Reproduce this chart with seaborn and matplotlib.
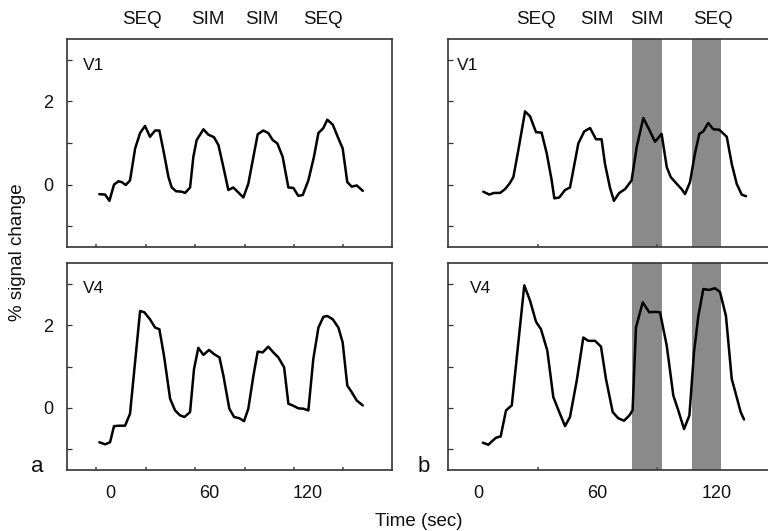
import matplotlib
matplotlib.use('Agg')
import matplotlib.pyplot as plt
import matplotlib.transforms as mtransforms
from matplotlib.ticker import FixedLocator
import pandas as pd
import seaborn as sns

# ---- data (time in sec, % signal change) ----
# a: V1
t_a_v1 = [-6.5, -3.0, -0.4, 2.4, 5.1, 7.1, 9.5, 12.1, 15.2, 18.2, 21.2, 24.2, 27.3, 29.9,
          32.3, 35.4, 37.4, 40.0, 43.4, 45.5, 48.5, 50.5, 52.5, 56.6, 59.6, 63.0, 65.7,
          68.7, 71.7, 74.7, 77.8, 80.8, 83.8, 86.9, 89.5, 92.9, 95.9, 98.6, 101.4, 104.6,
          108.1, 111.1, 114.1, 116.8, 120.2, 123.6, 126.3, 129.3, 131.7, 135.0, 138.4,
          141.0, 143.8, 146.5, 149.5, 153.2]
a_v1 = [-0.23, -0.24, -0.39, 0.00, 0.08, 0.06, -0.01, 0.10, 0.87, 1.24, 1.41, 1.15, 1.30, 1.30,
        0.83, 0.18, -0.07, -0.16, -0.17, -0.20, -0.07, 0.67, 1.07, 1.33, 1.20, 1.14, 0.95,
        0.42, -0.13, -0.07, -0.19, -0.31, 0.02, 0.67, 1.21, 1.30, 1.24, 1.07, 0.99, 0.67,
        -0.07, -0.08, -0.27, -0.25, 0.10, 0.67, 1.24, 1.36, 1.56, 1.44, 1.11,
        0.87, 0.06, -0.05, -0.02, -0.15]

# a: V4
t_a_v4 = [-6.5, -3.0, 0.0, 2.4, 5.7, 9.1, 12.1, 18.2, 20.8, 24.2, 27.3, 29.9, 32.7, 36.4,
          39.4, 42.4, 45.1, 48.5, 50.9, 53.5, 56.6, 60.0, 63.0, 66.3, 68.7, 72.3, 75.2,
          78.4, 81.2, 83.8, 86.9, 89.5, 92.5, 95.9, 99.0, 102.0, 105.5, 108.1, 110.7,
          114.1, 117.2, 120.2, 123.2, 126.3, 129.3, 131.7, 135.0, 138.4, 141.0, 143.8,
          146.5, 149.5, 153.2]
a_v4 = [-0.83, -0.88, -0.83, -0.44, -0.43, -0.43, -0.14, 2.34, 2.31, 2.14, 1.94, 1.90, 1.26, 0.22,
        -0.06, -0.18, -0.22, -0.10, 0.94, 1.45, 1.28, 1.40, 1.30, 1.22, 0.78, -0.02, -0.22,
        -0.25, -0.32, -0.02, 0.78, 1.36, 1.34, 1.48, 1.34, 1.22, 0.98, 0.10, 0.06,
        -0.01, -0.02, -0.06, 1.18, 1.94, 2.20, 2.22, 2.14, 1.94, 1.58, 0.54,
        0.38, 0.18, 0.06]

# b: V1
t_b_v1 = [2.7, 5.7, 8.1, 11.1, 13.6, 15.8, 17.8, 20.3, 23.7, 26.2, 29.2, 32.0, 34.6, 37.1,
          38.4, 40.9, 43.8, 46.3, 50.5, 53.5, 56.4, 59.4, 62.2, 63.9, 66.4, 68.4, 71.1,
          74.0, 77.3, 79.9, 83.2, 86.2, 89.1, 92.4, 95.0, 97.0, 100.0, 102.5, 104.2,
          106.7, 109.2, 111.4, 113.4, 115.9, 118.4, 121.4, 125.2, 127.7, 130.2, 132.7, 134.9]
b_v1 = [-0.17, -0.24, -0.20, -0.20, -0.11, 0.02, 0.18, 0.83, 1.76, 1.64, 1.26, 1.25, 0.75, 0.10,
        -0.33, -0.31, -0.13, -0.07, 0.99, 1.28, 1.36, 1.09, 1.09, 0.50, -0.07, -0.39, -0.20,
        -0.11, 0.10, 0.91, 1.60, 1.32, 1.03, 1.22, 0.42, 0.18, 0.02, -0.11, -0.23,
        0.06, 0.75, 1.22, 1.28, 1.48, 1.33, 1.32, 1.15, 0.50, 0.02, -0.24, -0.28]

# b: V4
t_b_v4 = [2.4, 5.2, 7.4, 9.1, 11.4, 14.1, 17.0, 23.3, 26.2, 29.2, 31.7, 34.9, 37.9, 40.9,
          43.8, 46.3, 49.7, 53.0, 55.5, 58.9, 61.9, 64.4, 67.8, 70.6, 73.5, 76.2, 77.8,
          79.5, 82.9, 86.2, 89.1, 91.6, 95.0, 98.3, 100.8, 103.7, 106.4, 108.7, 110.9,
          113.4, 116.4, 119.3, 121.8, 124.8, 127.7, 130.2, 132.2, 133.9]
b_v4 = [-0.84, -0.89, -0.79, -0.72, -0.69, -0.06, 0.06, 2.96, 2.59, 2.08, 1.90, 1.38, 0.26, -0.10,
        -0.44, -0.22, 0.66, 1.70, 1.62, 1.62, 1.48, 0.70, -0.10, -0.25, -0.31, -0.18, -0.06,
        1.94, 2.55, 2.31, 2.32, 2.31, 1.50, 0.30, -0.06, -0.51, -0.18, 1.34, 2.22,
        2.87, 2.85, 2.89, 2.80, 2.22, 0.70, 0.26, -0.10, -0.28]

# shaded attention windows in panel b (sec)
bands_b = [(77.5, 92.5), (107.5, 122.5)]

# block labels and their centres (sec)
block_names = ['SEQ', 'SIM', 'SIM', 'SEQ']
block_pos_a = [19.2, 59.4, 92.1, 129.1]
block_pos_b = [29.0, 59.9, 84.9, 118.3]

xticks = [0, 60, 120]
yticks = [-1, 0, 1, 2, 3]
ytick_labels = ['', '0', '', '2', '']

sns.set_theme(style='white')
plt.rcParams['font.family'] = ['Liberation Sans', 'DejaVu Sans']

W, H = 768, 531
TXT = '#111111'
fig = plt.figure(figsize=(W / 100, H / 100), dpi=100)


def px_box(left, top, right, bottom):
    return [left / W, 1 - bottom / H, (right - left) / W, (bottom - top) / H]


ax_a1 = fig.add_axes(px_box(67, 39, 392, 247))
ax_a2 = fig.add_axes(px_box(67, 263, 392, 470))
# right column runs off the edge of the figure, as in the original
ax_b1 = fig.add_axes(px_box(448, 39, 781, 247))
ax_b2 = fig.add_axes(px_box(448, 263, 781, 470))

panels = [
    (ax_a1, t_a_v1, a_v1, 'V1', (-26.1, 170.9), [-8.5, 21.5, 51.5, 81.5, 111.5, 141.5], True, 0.049),
    (ax_a2, t_a_v4, a_v4, 'V4', (-26.1, 170.9), [-8.5, 21.5, 51.5, 81.5, 111.5, 141.5], True, 0.049),
    (ax_b1, t_b_v1, b_v1, 'V1', (-15.1, 152.5), [0, 30, 60, 90, 120], False, 0.027),
    (ax_b2, t_b_v4, b_v4, 'V4', (-15.1, 152.5), [0, 30, 60, 90, 120], False, 0.066),
]

for ax, t, v, name, xlim, minor, left_col, name_x in panels:
    df = pd.DataFrame({'time': t, 'signal': v})
    if not left_col:
        for lo, hi in bands_b:
            ax.axvspan(lo, hi, color='#8a8a8a', lw=0, zorder=0)
    sns.lineplot(data=df, x='time', y='signal', ax=ax, color='black', lw=1.8,
                 estimator=None, zorder=3)
    ax.set_xlim(*xlim)
    ax.set_ylim(-1.5, 3.5)
    ax.set_xlabel('')
    ax.set_ylabel('')
    ax.set_yticks(yticks)
    ax.set_yticklabels(ytick_labels if left_col else [''] * len(yticks))
    ax.tick_params(axis='y', direction='in', length=3.5, width=0.9, color='#333333',
                   pad=10, labelsize=13, labelcolor=TXT, left=True)
    ax.set_xticks(xticks)
    ax.xaxis.set_minor_locator(FixedLocator(minor))
    ax.tick_params(axis='x', which='major', length=0, pad=11, labelsize=13, labelcolor=TXT)
    ax.tick_params(axis='x', which='minor', direction='in', length=2, width=1.2,
                   color='#555555', bottom=True)
    if ax in (ax_a1, ax_b1):
        ax.set_xticklabels([])
    for s in ax.spines.values():
        s.set_color('#333333')
        s.set_linewidth(1.2)
    ax.text(name_x, 0.875, name, transform=ax.transAxes, ha='left', va='center',
            fontsize=12.5, color=TXT)

# block labels above the top panels
for ax, pos in [(ax_a1, block_pos_a), (ax_b1, block_pos_b)]:
    trans = mtransforms.blended_transform_factory(ax.transData, fig.transFigure)
    for name, x in zip(block_names, pos):
        ax.text(x, 1 - 20 / H, name, transform=trans, ha='center', va='center',
                fontsize=13.5, color=TXT)

fig.text(18 / W, 1 - 252 / H, '% signal change', rotation=90, ha='center', va='center',
         fontsize=13.5, color=TXT)
fig.text(419 / W, 1 - 522 / H, 'Time (sec)', ha='center', va='center',
         fontsize=13.5, color=TXT)
fig.text(37.5 / W, 1 - 471.5 / H, 'a', ha='center', va='baseline', fontsize=16, color=TXT)
fig.text(424 / W, 1 - 472 / H, 'b', ha='center', va='baseline', fontsize=16, color=TXT)

fig.savefig('out.png', dpi=100)
